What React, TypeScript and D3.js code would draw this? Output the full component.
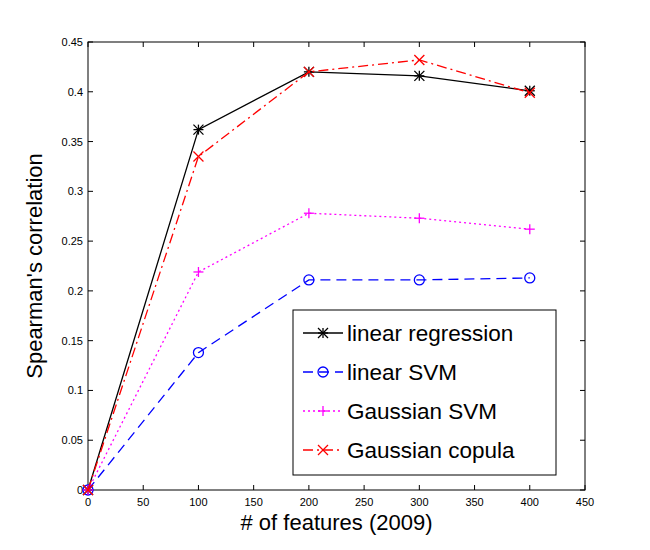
import { scaleLinear, line, range } from "d3";

const features = [0, 100, 200, 300, 400];
const linearRegression = [0, 0.362, 0.42, 0.416, 0.401];
const linearSVM = [0, 0.138, 0.211, 0.211, 0.213];
const gaussianSVM = [0, 0.219, 0.278, 0.273, 0.262];
const gaussianCopula = [0, 0.335, 0.42, 0.432, 0.399];
const xTicks = range(0, 451, 50);
const yTicks = range(0, 0.451, 0.05);

const series = [
  { name: "linear regression", values: linearRegression, color: "#000000", dash: "", marker: "star" },
  { name: "linear SVM", values: linearSVM, color: "#0000ff", dash: "10,6", marker: "circle" },
  { name: "Gaussian SVM", values: gaussianSVM, color: "#ff00ff", dash: "2,3", marker: "plus" },
  { name: "Gaussian copula", values: gaussianCopula, color: "#ff0000", dash: "10,4,2,4", marker: "x" },
];

const L = 88, R = 585, T = 42, B = 490;

function Marker({ type, x, y, color }: { type: string; x: number; y: number; color: string }) {
  const s = 5;
  const p = { stroke: color, strokeWidth: 1.3, fill: "none" };
  if (type === "circle") return <circle cx={x} cy={y} r={5} {...p} />;
  const plus = <><line x1={x - s} x2={x + s} y1={y} y2={y} {...p} /><line x1={x} x2={x} y1={y - s} y2={y + s} {...p} /></>;
  const cross = <><line x1={x - s} x2={x + s} y1={y - s} y2={y + s} {...p} /><line x1={x - s} x2={x + s} y1={y + s} y2={y - s} {...p} /></>;
  if (type === "plus") return plus;
  if (type === "x") return cross;
  return <>{plus}{cross}</>;
}

export default function App() {
  const x = scaleLinear().domain([0, 450]).range([L, R]);
  const y = scaleLinear().domain([0, 0.45]).range([B, T]);
  const gen = line<number>().x((_, i) => x(features[i])).y((d) => y(d));
  const font = "Arial, 'Liberation Sans', sans-serif";
  return (
    <svg width={650} height={550} style={{ position: "absolute", left: 0, top: 0, background: "#fff" }} fontFamily={font}>
      <rect x={L} y={T} width={R - L} height={B - T} fill="#fff" stroke="#000" />
      {xTicks.map((t) => (
        <g key={t}>
          <line x1={x(t)} x2={x(t)} y1={B} y2={B - 5} stroke="#000" />
          <line x1={x(t)} x2={x(t)} y1={T} y2={T + 5} stroke="#000" />
          <text x={x(t)} y={B + 16} textAnchor="middle" fontSize={11}>{t}</text>
        </g>
      ))}
      {yTicks.map((t) => (
        <g key={t}>
          <line x1={L} x2={L + 5} y1={y(t)} y2={y(t)} stroke="#000" />
          <line x1={R} x2={R - 5} y1={y(t)} y2={y(t)} stroke="#000" />
          <text x={L - 5} y={y(t) + 4} textAnchor="end" fontSize={11}>{+t.toFixed(2)}</text>
        </g>
      ))}
      {series.map((s) => (
        <g key={s.name}>
          <path d={gen(s.values) ?? undefined} fill="none" stroke={s.color} strokeWidth={1.3} strokeDasharray={s.dash} />
          {s.values.map((v, i) => <Marker key={i} type={s.marker} x={x(features[i])} y={y(v)} color={s.color} />)}
        </g>
      ))}
      <text x={(L + R) / 2} y={530} textAnchor="middle" fontSize={22}># of features (2009)</text>
      <text transform={`translate(42,${(T + B) / 2}) rotate(-90)`} textAnchor="middle" fontSize={22}>Spearman's correlation</text>
      <rect x={293} y={310} width={263} height={165} fill="#fff" stroke="#000" />
      {series.map((s, i) => {
        const ly = 333 + i * 39;
        return (
          <g key={s.name}>
            <line x1={303} x2={343} y1={ly} y2={ly} stroke={s.color} strokeWidth={1.3} strokeDasharray={s.dash} />
            <Marker type={s.marker} x={323} y={ly} color={s.color} />
            <text x={347} y={ly + 8} fontSize={22.5}>{s.name}</text>
          </g>
        );
      })}
    </svg>
  );
}
